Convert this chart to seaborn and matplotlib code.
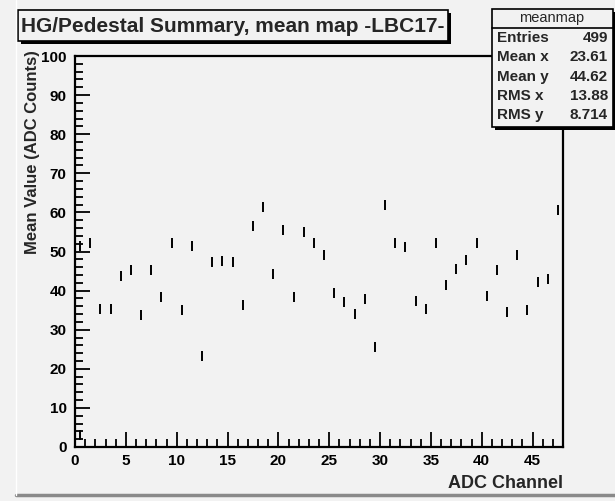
import matplotlib
matplotlib.use("Agg")
import matplotlib.pyplot as plt
import seaborn as sns
import pandas as pd
from matplotlib.patches import Rectangle
from matplotlib.lines import Line2D
from matplotlib.ticker import MultipleLocator

# mean value per ADC channel
channels = list(range(48))
mean_vals = [51.4, 52.1, 35.3, 35.4, 43.7, 45.3, 33.8, 45.2, 38.4, 52.1,
             35.0, 51.4, 23.3, 47.2, 47.5, 47.4, 36.2, 56.6, 61.5, 44.3,
             55.4, 38.4, 55.0, 52.3, 49.0, 39.5, 37.0, 34.1, 37.8, 25.7,
             61.9, 52.1, 51.2, 37.3, 35.2, 52.3, 41.5, 45.4, 47.8, 52.3,
             38.6, 45.3, 34.5, 49.0, 35.0, 42.1, 43.0, 60.5]
# a few low entries in channel 0
low_ch = [0]
low_vals = [3.0]

title = "HG/Pedestal Summary, mean map -LBC17-"
stat_title = "meanmap"
stat_names = ["Entries", "Mean x", "Mean y", "RMS x", "RMS y"]
stat_values = ["499", "23.61", "44.62", "13.88", "8.714"]

sns.set_theme(style="white")
plt.rcParams["font.family"] = ["Liberation Sans", "DejaVu Sans"]
plt.rcParams["font.weight"] = "bold"

bg = "#f2f2f2"
W, H = 615, 501
fig = plt.figure(figsize=(W / 100, H / 100), dpi=100, facecolor=bg)


def fx(px):
    return px / W


def fy(py):
    return 1 - py / H


ax = fig.add_axes([fx(75), fy(447), fx(563) - fx(75), fy(56) - fy(447)])
ax.set_facecolor(bg)

df = pd.DataFrame({"ch": [c + 0.5 for c in channels + low_ch],
                   "val": mean_vals + low_vals})
sns.scatterplot(data=df, x="ch", y="val", marker="|", s=45, color="black",
                linewidth=1.4, ax=ax, legend=False)

ax.set_xlim(0, 48)
ax.set_ylim(0, 100)
ax.xaxis.set_major_locator(MultipleLocator(5))
ax.xaxis.set_minor_locator(MultipleLocator(1))
ax.yaxis.set_major_locator(MultipleLocator(10))
ax.yaxis.set_minor_locator(MultipleLocator(2))
ax.tick_params(which="both", direction="in", top=False, right=False,
               bottom=True, left=True, width=1.3, color="black",
               labelsize=11, labelcolor="black")
ax.tick_params(which="major", length=11)
ax.tick_params(which="minor", length=5.5)
ax.tick_params(axis="x", pad=5)
ax.tick_params(axis="y", pad=6)
ax.set_xlabel("")
ax.set_ylabel("")
for sp in ax.spines.values():
    sp.set_color("black")
    sp.set_linewidth(1.6)
    sp.set_visible(True)

fig.text(fx(563), fy(483), "ADC Channel", ha="right", va="center",
         fontsize=13, fontweight="bold")
fig.text(fx(33), fy(50), "Mean Value (ADC Counts)", ha="center", va="top",
         rotation=90, fontsize=12, fontweight="bold")

# pad border
fig.add_artist(Line2D([fx(16), fx(615)], [fy(495), fy(495)], color="#8a8a8a",
                      lw=2.5, transform=fig.transFigure))
fig.add_artist(Line2D([fx(16), fx(16)], [fy(0), fy(495)], color="white",
                      lw=1.0, transform=fig.transFigure))


def box(l, t, r, b, shadow=3, fill=bg):
    fig.add_artist(Rectangle((fx(l + shadow), fy(b + shadow)),
                             fx(r) - fx(l), fy(t) - fy(b),
                             transform=fig.transFigure, facecolor="black",
                             edgecolor="none"))
    fig.add_artist(Rectangle((fx(l), fy(b)), fx(r) - fx(l), fy(t) - fy(b),
                             transform=fig.transFigure, facecolor=fill,
                             edgecolor="black", lw=1.2))


# title box
box(18, 10, 448, 41)
fig.text(fx(233), fy(26), title, ha="center", va="center", fontsize=15,
         fontweight="bold")

# stats box
box(492, 9, 613, 127)
fig.add_artist(Line2D([fx(492), fx(613)], [fy(28), fy(28)], color="black",
                      lw=1.2, transform=fig.transFigure))
fig.text(fx(552), fy(18), stat_title, ha="center", va="center", fontsize=10.5,
         fontweight="normal")
for i, (n, v) in enumerate(zip(stat_names, stat_values)):
    y = 38 + i * 19.3
    fig.text(fx(497), fy(y), n, ha="left", va="center", fontsize=11)
    fig.text(fx(608), fy(y), v, ha="right", va="center", fontsize=11)

fig.savefig("out.png", dpi=100, facecolor=bg)
